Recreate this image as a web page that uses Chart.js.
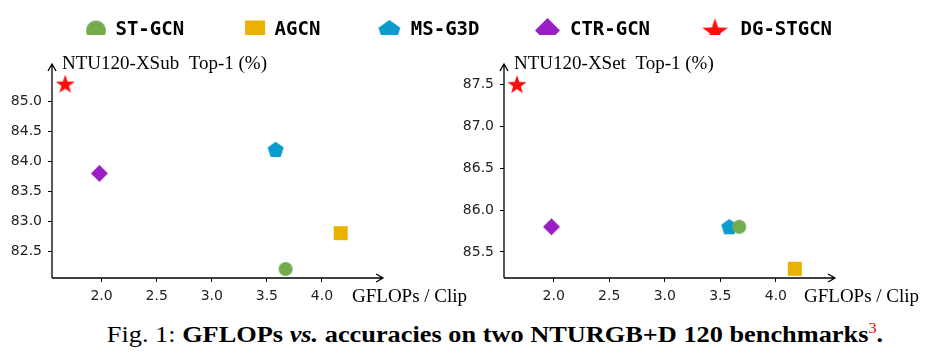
<!DOCTYPE html>
<html>
<head>
<meta charset="utf-8">
<script src="https://cdn.jsdelivr.net/npm/chart.js@4.4.0/dist/chart.umd.min.js"></script>
<style>
  body { margin: 0; background: #fff; }
  #page { position: relative; width: 936px; height: 361px; overflow: hidden; }
  .box { position: absolute; }
  #caption {
    position: absolute; left: 27px; top: 316px; width: 936px; text-align: center;
    font-family: 'Liberation Serif', serif; font-size: 22.5px; line-height: 26px; color: #000;
    transform: scaleX(1.17); transform-origin: 468px 0;
  }
  #caption b { font-weight: bold; }
  #caption sup { color: #e00; font-size: 14px; font-weight: normal; }
</style>
</head>
<body>
<div id="page">
  <div class="box" style="left:-9px;top:-40px;width:936px;height:150px;pointer-events:none"><canvas id="legendChart"></canvas></div>
  <div class="box" style="left:0;top:0;width:480px;height:310px"><canvas id="xsubChart"></canvas></div>
  <div class="box" style="left:450px;top:0;width:486px;height:310px"><canvas id="xsetChart"></canvas></div>
  <div id="caption">Fig. 1: <b>GFLOPs <i>vs.</i> accuracies on two NTURGB+D 120 benchmarks</b><sup>3</sup><b>.</b></div>
</div>
<script>
// data
const methods = ['ST-GCN', 'AGCN', 'MS-G3D', 'CTR-GCN', 'DG-STGCN'];
const gflops = [3.67, 4.17, 3.58, 1.98, 1.67];
const xsubAcc = [82.2, 82.8, 84.2, 83.8, 85.3];
const xsetAcc = [85.8, 85.3, 85.8, 85.8, 87.5];
const xTicks = [2.0, 2.5, 3.0, 3.5, 4.0];
const xsubTicks = [82.5, 83.0, 83.5, 84.0, 84.5, 85.0];
const xsetTicks = [85.5, 86.0, 86.5, 87.0, 87.5];

const colors = ['#72ac4d', '#e9b200', '#0a9bcf', '#991ec3', '#ff0d0d'];
const shapes = ['circle', 'square', 'pentagon', 'diamond', 'star'];
const plotSizes = [14, 14, 17, 17, 20];
const legendSizes = [20, 20, 23, 25, 27];
const legendShift = [0, 0, -2, -3, -6];

function makeMarker(shape, size, color, dx) {
  dx = dx || 0;
  const c = document.createElement('canvas');
  c.width = size + 2 + 2 * Math.abs(dx);
  c.height = size + 2;
  const g = c.getContext('2d');
  const cx = c.width / 2 + dx, cy = c.height / 2, r = size / 2;
  g.fillStyle = color;
  g.beginPath();
  if (shape === 'circle') {
    g.arc(cx, cy, r, 0, Math.PI * 2);
  } else if (shape === 'square') {
    g.rect(cx - r, cy - r, size, size);
  } else if (shape === 'diamond') {
    g.moveTo(cx, cy - r); g.lineTo(cx + r, cy); g.lineTo(cx, cy + r); g.lineTo(cx - r, cy);
  } else if (shape === 'pentagon') {
    for (let i = 0; i < 5; i++) {
      const a = -Math.PI / 2 + i * 2 * Math.PI / 5;
      g.lineTo(cx + r * Math.cos(a), cy + 0.08 * r + r * Math.sin(a));
    }
  } else if (shape === 'star') {
    for (let i = 0; i < 10; i++) {
      const a = -Math.PI / 2 + i * Math.PI / 5;
      const rr = i % 2 ? r * 0.4 : r;
      g.lineTo(cx + rr * Math.cos(a), cy + 0.1 * r + rr * Math.sin(a));
    }
  }
  g.closePath();
  g.fill();
  return c;
}

const plotMarkers = shapes.map((s, i) => makeMarker(s, plotSizes[i], colors[i]));
const legendMarkers = shapes.map((s, i) => makeMarker(s, legendSizes[i], colors[i], legendShift[i]));

const tickFont = { family: 'DejaVu Sans', size: 14 };
const titleFont = '19px "Liberation Serif", serif';

// axis lines with open arrow heads + axis titles
const arrowAxes = {
  id: 'arrowAxes',
  afterDraw(chart, args, opts) {
    const { ctx, chartArea: a } = chart;
    ctx.save();
    ctx.strokeStyle = '#000';
    ctx.lineWidth = 1.3;
    ctx.beginPath();
    ctx.moveTo(a.left, a.bottom);
    ctx.lineTo(a.left, a.top);
    ctx.moveTo(a.left - 4, a.top + 7);
    ctx.lineTo(a.left, a.top);
    ctx.lineTo(a.left + 4, a.top + 7);
    const xe = a.right + 28;
    ctx.moveTo(a.left, a.bottom);
    ctx.lineTo(xe, a.bottom);
    ctx.moveTo(xe - 7, a.bottom - 4);
    ctx.lineTo(xe, a.bottom);
    ctx.lineTo(xe - 7, a.bottom + 4);
    ctx.stroke();
    ctx.fillStyle = '#000';
    ctx.font = titleFont;
    ctx.textBaseline = 'middle';
    ctx.textAlign = 'left';
    ctx.fillText(opts.yTitle, a.left + 10, a.top);
    ctx.fillText('GFLOPs / Clip', a.right - 3, a.bottom + 19);
    ctx.restore();
  }
};

function scatterChart(id, accs, yTicks, yMin, yMax, xMin, xMax, yWidth, padRight, yTitle) {
  const datasets = methods.map((m, i) => ({
    label: m,
    data: [{ x: gflops[i], y: accs[i] }],
    pointStyle: plotMarkers[i],
    backgroundColor: colors[i],
    borderColor: colors[i]
  }));
  return new Chart(document.getElementById(id), {
    type: 'scatter',
    data: { datasets },
    plugins: [arrowAxes],
    options: {
      responsive: true,
      maintainAspectRatio: false,
      animation: false,
      layout: { padding: { top: 64, right: padRight, bottom: 0, left: 0 } },
      plugins: {
        legend: { display: false },
        tooltip: { enabled: false },
        arrowAxes: { yTitle }
      },
      scales: {
        x: {
          type: 'linear', min: xMin, max: xMax,
          afterBuildTicks: (s) => { s.ticks = xTicks.map(v => ({ value: v })); },
          afterFit: (s) => { s.height = 32; },
          border: { display: false },
          grid: { drawOnChartArea: false, drawTicks: true, tickLength: 4, color: '#000', lineWidth: 1 },
          ticks: { font: tickFont, color: '#222', padding: 6, maxRotation: 0, callback: (v) => v.toFixed(1) }
        },
        y: {
          type: 'linear', min: yMin, max: yMax,
          afterBuildTicks: (s) => { s.ticks = yTicks.map(v => ({ value: v })); },
          afterFit: (s) => { s.width = yWidth; },
          border: { display: false },
          grid: { drawOnChartArea: false, drawTicks: true, tickLength: 4, color: '#000', lineWidth: 1 },
          ticks: { font: tickFont, color: '#222', padding: 6, callback: (v) => v.toFixed(1) }
        }
      }
    }
  });
}

scatterChart('xsubChart', xsubAcc, xsubTicks, 82.05, 85.63, 1.55, 4.30, 52, 125, 'NTU120-XSub  Top-1 (%)');
scatterChart('xsetChart', xsetAcc, xsetTicks, 85.19, 87.74, 1.553, 4.28, 54, 129, 'NTU120-XSet  Top-1 (%)');

// shared legend on its own canvas
new Chart(document.getElementById('legendChart'), {
  type: 'scatter',
  data: { datasets: methods.map((m, i) => ({ label: m, data: [], pointStyle: legendMarkers[i], backgroundColor: colors[i] })) },
  options: {
    responsive: true,
    maintainAspectRatio: false,
    animation: false,
    scales: { x: { display: false }, y: { display: false } },
    plugins: {
      tooltip: { enabled: false },
      legend: {
        display: true,
        position: 'top',
        labels: {
          usePointStyle: true,
          pointStyleWidth: 20,
          padding: 61,
          color: '#000',
          font: { family: 'DejaVu Sans Mono', size: 19, weight: 'bold' },
          generateLabels: (chart) => methods.map((m, i) => ({
            text: m, pointStyle: legendMarkers[i], fillStyle: colors[i],
            strokeStyle: colors[i], lineWidth: 0, hidden: false, datasetIndex: i
          }))
        }
      }
    }
  }
});
</script>
</body>
</html>
